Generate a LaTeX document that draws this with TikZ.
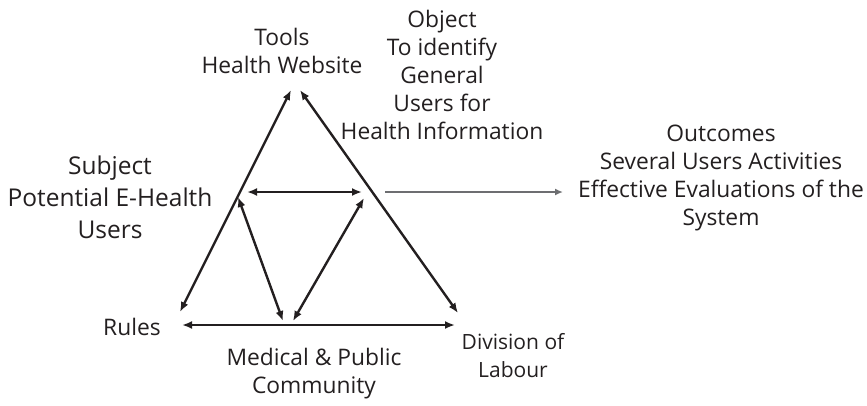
\documentclass[tikz,border=0pt]{standalone}
\usepackage{fontspec}
\setmainfont{Open Sans}
\usetikzlibrary{arrows.meta}
\definecolor{ink}{HTML}{231F20}
\definecolor{arrowgray}{HTML}{6D6E71}
\tikzset{
  lbl/.style={align=center, inner sep=0pt, text=ink, font=\fontsize{22.8}{28}\selectfont},
  biglbl/.style={align=center, inner sep=0pt, text=ink, font=\fontsize{24.5}{32}\selectfont},
  smalllbl/.style={align=center, inner sep=0pt, text=ink, font=\fontsize{21}{28}\selectfont},
  link/.style={draw=ink, line width=2.4pt, {Latex[length=10pt,width=8pt]}-{Latex[length=10pt,width=8pt]}},
  outlink/.style={draw=arrowgray, line width=2pt, -{Latex[length=8pt,width=7pt]}}
}
\begin{document}
\begin{tikzpicture}[x=1pt,y=-1pt]
\useasboundingbox (0,0) rectangle (867,405);
% labels
\node[lbl] (tools) at (282,51) {Tools\\Health Website};
\node[lbl] (object) at (442,75) {Object\\To identify\\General\\Users for\\Health Information};
\node[biglbl] (subject) at (110,197) {Subject\\Potential E-Health\\Users};
\node[lbl] (outcomes) at (721,178) {Outcomes\\Several Users Activities\\Effective Evaluations of the\\System};
\node[lbl] (rules) at (132,327) {Rules};
\node[lbl] (community) at (314,374) {Medical \& Public\\Community};
\node[smalllbl] (division) at (513,356) {Division of\\Labour};
% connector end points
\coordinate (topL) at (291,90);
\coordinate (topR) at (300,90);
\coordinate (botL) at (180,312);
\coordinate (botR) at (458,313);
\coordinate (subj) at (238,197);
\coordinate (midL) at (247,192);
\coordinate (midR) at (362,192);
\coordinate (innR) at (364,198);
\coordinate (baseA) at (283,321);
\coordinate (baseB) at (293,321);
\coordinate (baseL) at (182,325);
\coordinate (baseR) at (455,325);
\coordinate (outS) at (385,192);
\coordinate (outE) at (563,192);
% connectors
\draw[link] (botL) -- (topL);
\draw[link] (topR) -- (botR);
\draw[link] (midL) -- (midR);
\draw[link] (subj) -- (baseA);
\draw[link] (innR) -- (baseB);
\draw[link] (baseL) -- (baseR);
\draw[outlink] (outS) -- (outE);
\end{tikzpicture}
\end{document}
